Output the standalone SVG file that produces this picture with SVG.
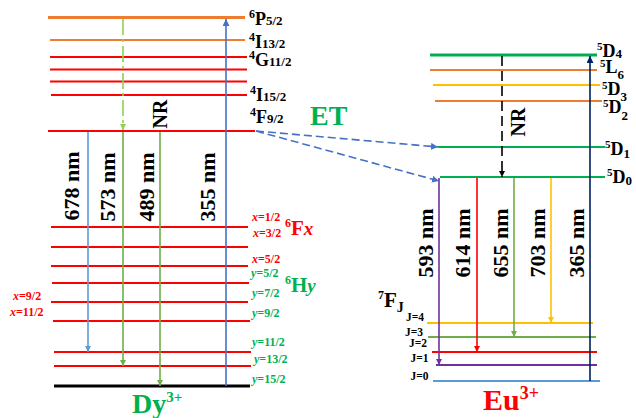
<svg xmlns="http://www.w3.org/2000/svg" width="636" height="418" viewBox="0 0 636 418">
<style>
text{font-family:"Liberation Serif","Times New Roman",serif;font-weight:bold;fill:#000}
.lv{stroke-width:2;fill:none}
.thick{stroke-width:3}
.ar{stroke-width:1.6;fill:none}
.nm{font-size:22px}
.sm{font-size:12px}
.jl{font-size:11.5px}
.it{font-style:italic}
.r{fill:#FF0000}
.g{fill:#00B050}
</style>
<defs>
<marker id="mLB" markerWidth="6" markerHeight="6" refX="6" refY="3" orient="auto" markerUnits="userSpaceOnUse"><path d="M0,0 L6,3 L0,6z" fill="#5B9BD5"/></marker>
<marker id="mB" markerWidth="7" markerHeight="7" refX="7" refY="3.5" orient="auto" markerUnits="userSpaceOnUse"><path d="M0,0 L7,3.5 L0,7z" fill="#4472C4"/></marker>
<marker id="mG" markerWidth="6" markerHeight="6" refX="6" refY="3" orient="auto" markerUnits="userSpaceOnUse"><path d="M0,0 L6,3 L0,6z" fill="#70AD47"/></marker>
<marker id="mLG" markerWidth="6" markerHeight="6" refX="6" refY="3" orient="auto" markerUnits="userSpaceOnUse"><path d="M0,0 L6,3 L0,6z" fill="#92D050"/></marker>
<marker id="mK" markerWidth="6" markerHeight="6" refX="6" refY="3" orient="auto" markerUnits="userSpaceOnUse"><path d="M0,0 L6,3 L0,6z" fill="#000"/></marker>
<marker id="mN" markerWidth="7" markerHeight="7" refX="7" refY="3.5" orient="auto" markerUnits="userSpaceOnUse"><path d="M0,0 L7,3.5 L0,7z" fill="#002060"/></marker>
<marker id="mP" markerWidth="6" markerHeight="6" refX="6" refY="3" orient="auto" markerUnits="userSpaceOnUse"><path d="M0,0 L6,3 L0,6z" fill="#7030A0"/></marker>
<marker id="mR" markerWidth="6" markerHeight="6" refX="6" refY="3" orient="auto" markerUnits="userSpaceOnUse"><path d="M0,0 L6,3 L0,6z" fill="#FF0000"/></marker>
<marker id="mY" markerWidth="6" markerHeight="6" refX="6" refY="3" orient="auto" markerUnits="userSpaceOnUse"><path d="M0,0 L6,3 L0,6z" fill="#FFC000"/></marker>
</defs>

<!-- Dy3+ levels -->
<g id="dy-6P52">
<line class="lv thick" x1="48" y1="17.5" x2="245" y2="17.5" stroke="#ED7D31"/>
<text x="249" y="25"><tspan font-size="12" dy="-7">6</tspan><tspan font-size="18" dy="7">P</tspan><tspan font-size="13">5/2</tspan></text>
</g>
<g id="dy-4I132">
<line class="lv" x1="50" y1="40" x2="245" y2="40" stroke="#ED7D31"/>
<text x="249" y="48"><tspan font-size="12" dy="-7">4</tspan><tspan font-size="18" dy="7">I</tspan><tspan font-size="13">13/2</tspan></text>
</g>
<g id="dy-4G112">
<line class="lv" x1="50" y1="57" x2="247" y2="57" stroke="#FF0000"/>
<text x="249" y="65.5"><tspan font-size="12" dy="-7">4</tspan><tspan font-size="18" dy="7">G</tspan><tspan font-size="13">11/2</tspan></text>
</g>
<g id="dy-l4">
<line class="lv" x1="50" y1="69.5" x2="247" y2="69.5" stroke="#FF0000"/>
</g>
<g id="dy-l5">
<line class="lv" x1="50" y1="81.5" x2="247" y2="81.5" stroke="#FF0000"/>
</g>
<g id="dy-4I152">
<line class="lv" x1="51" y1="95" x2="247" y2="95" stroke="#FF0000"/>
<text x="250" y="101"><tspan font-size="12" dy="-7">4</tspan><tspan font-size="18" dy="7">I</tspan><tspan font-size="13">15/2</tspan></text>
</g>
<g id="dy-4F92">
<line class="lv" x1="48" y1="131" x2="255" y2="131" stroke="#FF0000"/>
<text x="250" y="123"><tspan font-size="12" dy="-7">4</tspan><tspan font-size="18" dy="7">F</tspan><tspan font-size="13">9/2</tspan></text>
</g>
<g id="dy-6F">
<line class="lv" x1="51" y1="227" x2="248" y2="227" stroke="#FF0000"/>
<line class="lv" x1="51" y1="247" x2="248" y2="247" stroke="#FF0000"/>
<line class="lv" x1="51" y1="266" x2="248" y2="266" stroke="#FF0000"/>
<text class="sm r" x="252" y="221"><tspan class="it">x</tspan>=1/2</text>
<text class="sm r" x="253" y="237"><tspan class="it">x</tspan>=3/2</text>
<text class="sm r" x="252" y="263"><tspan class="it">x</tspan>=5/2</text>
<text class="r" x="285" y="235"><tspan font-size="12" dy="-8">6</tspan><tspan font-size="21" dy="8">F</tspan><tspan font-size="19" class="it">x</tspan></text>
<text class="sm r" x="13" y="300"><tspan class="it">x</tspan>=9/2</text>
<text class="sm r" x="10" y="316"><tspan class="it">x</tspan>=11/2</text>
</g>
<g id="dy-6H">
<line class="lv" x1="52" y1="283" x2="249" y2="283" stroke="#FF0000"/>
<line class="lv" x1="51" y1="302" x2="248" y2="302" stroke="#FF0000"/>
<line class="lv" x1="53" y1="321" x2="250" y2="321" stroke="#FF0000"/>
<line class="lv" x1="54" y1="352" x2="251" y2="352" stroke="#FF0000"/>
<line class="lv" x1="54" y1="366" x2="251" y2="366" stroke="#FF0000"/>
<line class="lv thick" x1="54" y1="386" x2="250" y2="386" stroke="#000"/>
<text class="sm g" x="251" y="277"><tspan class="it">y</tspan>=5/2</text>
<text class="sm g" x="252" y="297"><tspan class="it">y</tspan>=7/2</text>
<text class="sm g" x="252" y="317"><tspan class="it">y</tspan>=9/2</text>
<text class="sm g" x="252" y="346"><tspan class="it">y</tspan>=11/2</text>
<text class="sm g" x="254" y="363"><tspan class="it">y</tspan>=13/2</text>
<text class="sm g" x="252" y="383"><tspan class="it">y</tspan>=15/2</text>
<text class="g" x="285" y="292"><tspan font-size="12" dy="-8">6</tspan><tspan font-size="21" dy="8">H</tspan><tspan font-size="19" class="it">y</tspan></text>
</g>
<g id="dy-ion">
<text class="g" x="132" y="413" font-size="28">Dy<tspan font-size="15" dy="-11">3+</tspan></text>
</g>

<!-- Eu3+ levels -->
<g id="eu-5D4">
<line class="lv thick" x1="430" y1="55" x2="597" y2="55" stroke="#00B050"/>
<text x="597" y="56.5"><tspan font-size="11" dy="-7">5</tspan><tspan font-size="18" dy="7">D</tspan><tspan font-size="13" dy="1">4</tspan></text>
</g>
<g id="eu-5L6">
<line class="lv" x1="430" y1="70" x2="597" y2="70" stroke="#ED7D31"/>
<text x="600" y="73"><tspan font-size="11" dy="-6">5</tspan><tspan font-size="18" dy="6">L</tspan><tspan font-size="13" dy="6">6</tspan></text>
</g>
<g id="eu-5D3">
<line class="lv" x1="433" y1="85" x2="600" y2="85" stroke="#FFC000"/>
<text x="602" y="94.5"><tspan font-size="11" dy="-6">5</tspan><tspan font-size="18" dy="6">D</tspan><tspan font-size="13" dy="6">3</tspan></text>
</g>
<g id="eu-5D2">
<line class="lv" x1="435" y1="101" x2="602" y2="101" stroke="#ED7D31"/>
<text x="603" y="113"><tspan font-size="11" dy="-6">5</tspan><tspan font-size="18" dy="6">D</tspan><tspan font-size="13" dy="7">2</tspan></text>
</g>
<g id="eu-5D1">
<line class="lv" x1="438" y1="147" x2="605" y2="147" stroke="#00B050"/>
<text x="605" y="154.5"><tspan font-size="11" dy="-7">5</tspan><tspan font-size="18" dy="7">D</tspan><tspan font-size="13" dy="3">1</tspan></text>
</g>
<g id="eu-5D0">
<line class="lv" x1="440" y1="177" x2="605" y2="177" stroke="#00B050"/>
<text x="607" y="183"><tspan font-size="11" dy="-7">5</tspan><tspan font-size="18" dy="7">D</tspan><tspan font-size="13" dy="2">0</tspan></text>
</g>
<g id="eu-7FJ">
<line class="lv" x1="427" y1="323" x2="593" y2="323" stroke="#FFC000"/>
<line class="lv" x1="428" y1="337" x2="596" y2="337" stroke="#70AD47"/>
<line class="lv" x1="432" y1="352" x2="597" y2="352" stroke="#FF0000"/>
<line class="lv" x1="436" y1="365" x2="597" y2="365" stroke="#7030A0"/>
<line class="lv" x1="433" y1="381" x2="600" y2="381" stroke="#5B9BD5"/>
<text x="378" y="307"><tspan font-size="12" dy="-8">7</tspan><tspan font-size="21" dy="8">F</tspan><tspan font-size="14" dy="5">J</tspan></text>
<text class="jl" x="406" y="320.5">J=4</text>
<text class="jl" x="405" y="336">J=3</text>
<text class="jl" x="409" y="347">J=2</text>
<text class="jl" x="410.5" y="361.5">J=1</text>
<text class="jl" x="410.5" y="380">J=0</text>
</g>
<g id="eu-ion">
<text class="r" x="483" y="410" font-size="30">Eu<tspan font-size="18" dy="-11">3+</tspan></text>
</g>
<g id="et-label">
<text class="g" x="310" y="125" font-size="28">ET</text>
</g>

<!-- connectors -->
<g id="connectors">
<line class="ar" x1="123" y1="19" x2="123" y2="130" stroke="#92D050" stroke-dasharray="16 4 3 4" marker-end="url(#mLG)"/>
<line class="ar" x1="88" y1="132" x2="88" y2="352" stroke="#5B9BD5" marker-end="url(#mLB)"/>
<line class="ar" x1="123" y1="132" x2="123" y2="366" stroke="#70AD47" marker-end="url(#mG)"/>
<line class="ar" x1="160" y1="132" x2="160" y2="386" stroke="#70AD47" marker-end="url(#mG)"/>
<line class="ar" x1="226" y1="386" x2="226" y2="19" stroke="#4472C4" stroke-width="2" marker-end="url(#mB)"/>
<line class="ar" x1="256" y1="131" x2="438" y2="147" stroke="#4472C4" stroke-dasharray="8 4" marker-end="url(#mB)"/>
<line class="ar" x1="256" y1="131" x2="439" y2="181" stroke="#4472C4" stroke-dasharray="8 4" marker-end="url(#mB)"/>
<line class="ar" x1="502" y1="56" x2="502" y2="177" stroke="#000" stroke-dasharray="10 5" marker-end="url(#mK)"/>
<line class="ar" x1="590" y1="381" x2="590" y2="56" stroke="#002060" stroke-width="2" marker-end="url(#mN)"/>
<line class="ar" x1="439" y1="178" x2="439" y2="365" stroke="#7030A0" marker-end="url(#mP)"/>
<line class="ar" x1="477" y1="178" x2="477" y2="352" stroke="#FF0000" marker-end="url(#mR)"/>
<line class="ar" x1="514" y1="178" x2="514" y2="337" stroke="#70AD47" marker-end="url(#mG)"/>
<line class="ar" x1="551" y1="178" x2="551" y2="323" stroke="#FFC000" marker-end="url(#mY)"/>
</g>

<!-- transition labels -->
<g id="labels">
<text class="nm" transform="translate(79,186) rotate(-90)" text-anchor="middle">678 nm</text>
<text class="nm" transform="translate(115,187) rotate(-90)" text-anchor="middle">573 nm</text>
<text class="nm" transform="translate(154,187) rotate(-90)" text-anchor="middle">489 nm</text>
<text class="nm" transform="translate(215,187) rotate(-90)" text-anchor="middle">355 nm</text>
<text font-size="20" transform="translate(167,114) rotate(-90)" text-anchor="middle">NR</text>
<text font-size="20" transform="translate(525,122) rotate(-90)" text-anchor="middle">NR</text>
<text class="nm" transform="translate(433,243) rotate(-90)" text-anchor="middle">593 nm</text>
<text class="nm" transform="translate(470,243) rotate(-90)" text-anchor="middle">614 nm</text>
<text class="nm" transform="translate(508,243) rotate(-90)" text-anchor="middle">655 nm</text>
<text class="nm" transform="translate(545,243) rotate(-90)" text-anchor="middle">703 nm</text>
<text class="nm" transform="translate(584,243) rotate(-90)" text-anchor="middle">365 nm</text>
</g>
</svg>
